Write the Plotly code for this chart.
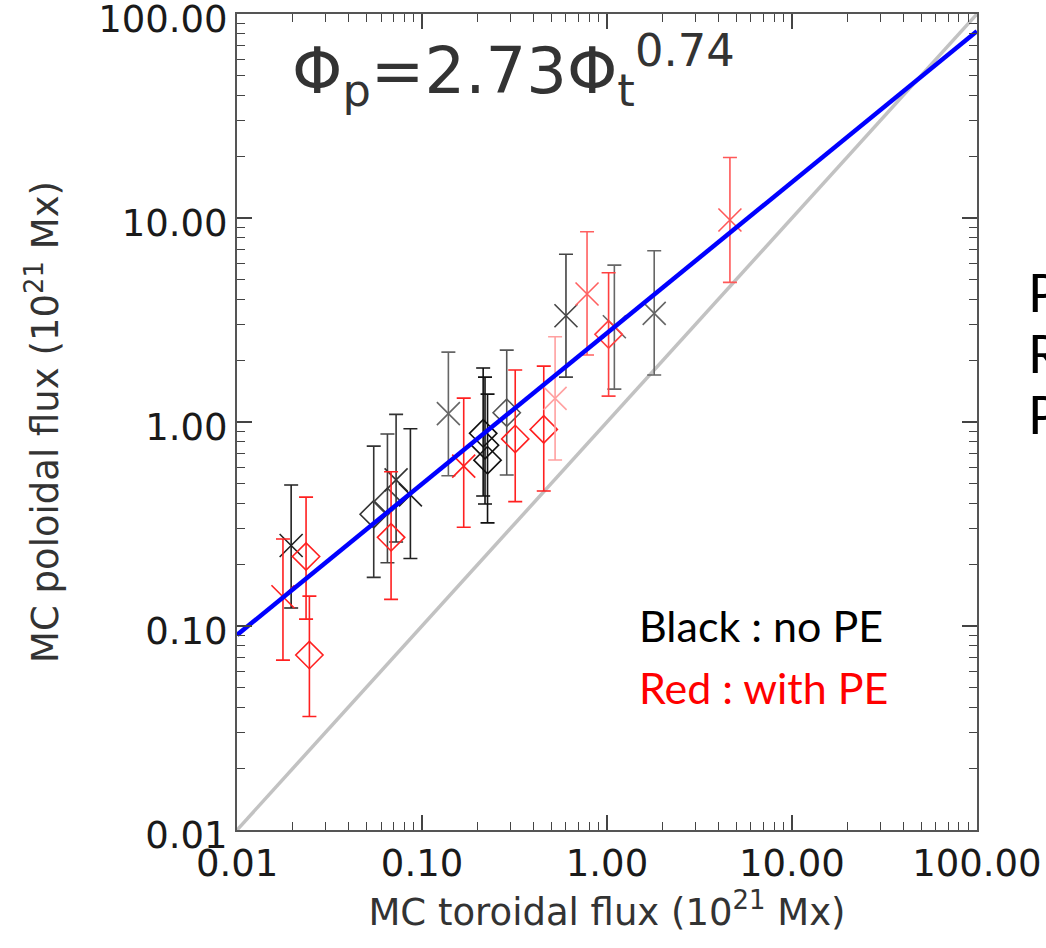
import plotly.graph_objects as go

# ---- data ----
black_x = [0.0196, 0.0548, 0.065, 0.0724, 0.0865, 0.1388, 0.214, 0.219, 0.226, 0.287, 0.600, 1.096, 1.80]
black_y = [0.248, 0.353, 0.406, 0.52, 0.439, 1.10, 0.88, 0.77, 0.65, 1.11, 3.32, 2.93, 3.41]
black_hi = [0.491, 0.762, 0.873, 1.09, 0.927, 2.20, 1.84, 1.66, 1.37, 2.25, 6.64, 5.88, 6.91]
black_lo = [0.1225, 0.173, 0.204, 0.258, 0.214, 0.545, 0.434, 0.396, 0.32, 0.55, 1.66, 1.45, 1.70]
black_sym = ["x", "d", "d", "x", "x", "x", "d", "d", "d", "d", "x", "x", "x"]
black_col = ["#222222", "#333333", "#444444", "#333333", "#222222", "#666666", "#111111",
             "#111111", "#111111", "#555555", "#444444", "#666666", "#666666"]

red_x = [0.0177, 0.0236, 0.0246, 0.068, 0.168, 0.319, 0.455, 0.524, 0.78, 1.02, 4.62]
red_y = [0.139, 0.219, 0.072, 0.272, 0.608, 0.826, 0.92, 1.306, 4.24, 2.69, 9.78]
red_hi = [0.267, 0.428, 0.14, 0.57, 1.31, 1.80, 1.88, 2.62, 8.57, 5.39, 19.8]
red_lo = [0.068, 0.108, 0.036, 0.135, 0.305, 0.407, 0.459, 0.651, 2.13, 1.34, 4.84]
red_sym = ["x", "d", "d", "d", "x", "d", "d", "x", "x", "d", "x"]
red_col = ["#ff2020", "#ff2020", "#ff2020", "#ff2020", "#ff2020", "#ff2020", "#ff2020",
           "#ffa0a0", "#ff6060", "#ff4040", "#ff5858"]

axis_range = [0.01, 100.0]
fit_coef, fit_exp = 2.73, 0.74
tick_vals = [0.01, 0.1, 1, 10, 100]
tick_text = ["0.01", "0.10", "1.00", "10.00", "100.00"]
minor_vals = [m * d for d in [0.01, 0.1, 1, 10] for m in range(2, 10)]

fig = go.Figure()

# 1:1 reference line
fig.add_trace(go.Scatter(x=axis_range, y=axis_range, mode="lines",
                         line=dict(color="#c2c2c2", width=3.5), showlegend=False, hoverinfo="skip"))

sym_map = {"x": "x-thin-open", "d": "diamond-open"}


def add_points(xs, ys, his, los, syms, cols):
    for x, y, hi, lo, s, c in zip(xs, ys, his, los, syms, cols):
        fig.add_trace(go.Scatter(
            x=[x], y=[y], mode="markers",
            marker=dict(symbol=sym_map[s], size=23 if s == "x" else 21,
                        color=c, line=dict(color=c, width=1.6)),
            error_y=dict(type="data", symmetric=False, array=[hi - y], arrayminus=[y - lo],
                         color=c, thickness=1.6, width=7),
            showlegend=False))


add_points(black_x, black_y, black_hi, black_lo, black_sym, black_col)
add_points(red_x, red_y, red_hi, red_lo, red_sym, red_col)

# power-law fit line
fit_y = [fit_coef * v ** fit_exp for v in axis_range]
fig.add_trace(go.Scatter(x=axis_range, y=fit_y, mode="lines",
                         line=dict(color="#0000ff", width=4.5), showlegend=False))

# invisible trace so the minor-tick overlay axes are drawn
fig.add_trace(go.Scatter(x=axis_range, y=axis_range, xaxis="x2", yaxis="y2", mode="lines",
                         line=dict(width=0), opacity=0, showlegend=False, hoverinfo="skip"))

rng = [-2.0005, 2.0005]
tickfont = dict(family="DejaVu Sans", size=37, color="#1a1a1a")
major = dict(
    type="log", range=rng, showgrid=False, zeroline=False, automargin=False,
    showline=True, linecolor="#555555", linewidth=2, mirror="ticks",
    ticks="inside", ticklen=15, tickwidth=1.5, tickcolor="#444444",
    tickvals=tick_vals, ticktext=tick_text, tickfont=tickfont,
    ticklabeloverflow="allow",
)
minor = dict(
    type="log", range=rng, showgrid=False, zeroline=False, showline=False, automargin=False,
    mirror="ticks", ticks="inside", ticklen=8, tickwidth=1.3, tickcolor="#444444",
    tickvals=minor_vals, showticklabels=False,
)
title_font = dict(family="DejaVu Sans", size=37, color="#333333")

fig.update_layout(
    width=1046, height=948,
    margin=dict(l=237, r=69, t=14, b=118),
    paper_bgcolor="white", plot_bgcolor="white",
    xaxis=dict(**major, title=dict(text="MC toroidal flux (10<sup>21</sup> Mx)",
                                   font=title_font, standoff=10)),
    yaxis=dict(**major, ticklabelshift=5,
               title=dict(text="MC poloidal flux (10<sup>21</sup> Mx)",
                          font=title_font, standoff=28)),
    xaxis2=dict(**minor, overlaying="x", side="bottom"),
    yaxis2=dict(**minor, overlaying="y", side="left"),
)

fig.add_annotation(x=-1.715, y=1.725, xref="x", yref="y", xanchor="left", yanchor="middle",
                   text="Φ<sub>p</sub>=2.73Φ<sub>t</sub><sup>0.74</sup>", showarrow=False,
                   font=dict(family="DejaVu Sans", size=64, color="#333333"))
fig.add_annotation(x=0.162, y=-1.0, xref="x", yref="y", xanchor="left", yanchor="middle",
                   text="Black : no PE", showarrow=False,
                   font=dict(family="Lato", size=43, color="#000000"))
fig.add_annotation(x=0.162, y=-1.304, xref="x", yref="y", xanchor="left", yanchor="middle",
                   text="Red : with PE", showarrow=False,
                   font=dict(family="Lato", size=43, color="#ff0000"))
for letter, yp in zip(["P", "R", "P"], [0.659, 0.585, 0.510]):
    fig.add_annotation(x=1.066, y=yp, xref="paper", yref="paper", xanchor="left", yanchor="middle",
                       text=letter, showarrow=False,
                       font=dict(family="Lato", size=52, color="#000000"))

fig.write_html("out.html", config={"displayModeBar": False},
               post_script="document.body.style.margin='0';")
